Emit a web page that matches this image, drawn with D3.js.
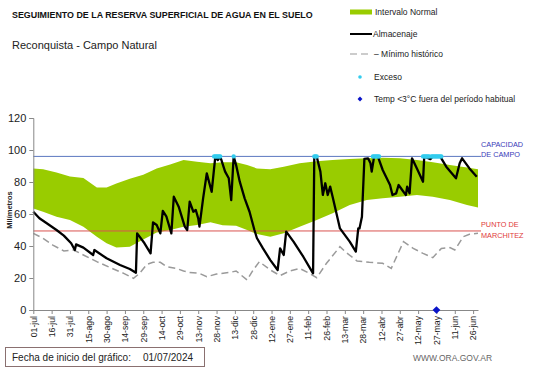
<!DOCTYPE html>
<html><head><meta charset="utf-8">
<script src="https://cdn.jsdelivr.net/npm/d3@7"></script>
<style>body{margin:0;background:#fff}svg{display:block}text{font-family:"Liberation Sans",Arial,sans-serif}</style>
</head><body>
<svg id="c" width="541" height="368"></svg>
<script>
const tickLabels = ["01-jul","16-jul","31-jul","15-ago","30-ago","14-sep","29-sep","14-oct","29-oct","13-nov","28-nov","13-dic","28-dic","12-ene","27-ene","11-feb","26-feb","13-mar","28-mar","12-abr","27-abr","12-may","27-may","11-jun","26-jun"];
const yTicks = [0,20,40,60,80,100,120];
const capacidad = 96;
const marchitez = 49.4;

const bandDays  = [0,8,19,30,41,52,60,68,79,90,101,112,123,134,145,155,166,175,183,194,205,218,232,245,259,273,286,300,314,327,341,355,364];
const bandUpper = [88.5,88,86,83.5,82.5,76.5,76.5,79,82,84.5,88.5,91,93.7,92.7,91.7,92.3,92.3,90.6,88.5,88,89.6,91.7,93,93.7,94.4,94.8,95.2,94.8,93.7,92.3,90.6,89,88];
const bandLower = [63.5,61.4,58.3,56.2,52.1,45.8,41.7,39,39.6,44,48.5,50,52.1,53.1,54.8,53,52.7,50,47.5,45.8,47.9,52.1,56.2,60.4,65.6,68.7,69.8,70.8,71.9,70.8,68.7,65.6,64];

const minDays = [0,8,16,25,33,41,52,63,74,82,87,93,98,104,109,117,123,128,136,142,150,161,166,175,180,185,194,202,210,218,226,232,240,251,256,265,275,286,293,303,311,319,327,334,341,345,352,357,364];
const minVals = [47.9,44.8,40.6,36.9,37.5,34.4,30.2,26.5,22.9,19.8,22.9,28.5,29.8,29.8,27.1,26,24.4,23.5,22.9,20.8,22.5,23.5,24.4,18.75,25,30.2,25,21.5,24.4,26,22.9,20.2,29.2,39.6,36,30.6,29.8,29.2,26,42.7,38.5,35.4,32.7,38.5,39,37.5,45.8,47.3,47.9];

const almDays = [0,5,11,19,25,31,34,35,41,49,50,60,71,79,84,85,91,96,98,101,104,106,109,113,115,119,124,126,128,131,133,135,136,139,142,146,149,151,153,157,160,162,164,166,169,173,177,181,183,188,194,200,202,205,207,213,221,229,230,232,235,237,239,241,243,245,251,259,264,266,267,269,271,274,276,277,279,282,286,292,294,297,299,303,305,306,308,310,314,319,320,325,327,333,338,346,349,351,357,363];
const almVals = [61.4,57.3,54.2,50,46.5,41.7,37.5,41,39,34.4,37.5,32.3,28.1,25.6,23.3,47.9,41.7,35.4,54.8,53.1,47.9,61.9,58.3,47.9,70.8,64.6,52.1,50,67.7,61.4,62.5,57.3,52.1,69.8,85.4,73.9,96,93.7,96,86.5,82.3,68.7,96,90.6,80.2,69.8,61.4,50,45,38.5,31.2,25,38.5,34.4,49,42.7,33.3,22.9,96,95.8,86.5,71.9,79.2,71.9,77.1,70.8,51,42.7,36.5,51,51,58.3,94.4,94.8,91.7,86.5,96,96,87.5,78.1,71.9,72.9,78.1,73.9,71.9,77.1,72.9,94.8,88.5,80.2,96,94.3,96,96,89.6,82.3,91.7,94.8,88.5,83.3];

const excesoDays = [148,149,150,151,152,153,164,230,231,232,278,279,280,281,282,283,319,320,321,322,323,324,326,327,328,329,330,331,332,333,334];
const heladaDays = [330];

const svg = d3.select("#c");
svg.append("rect").attr("width",541).attr("height",368).attr("fill","#fff");

const x = d3.scaleLinear().domain([0,364]).range([33.3,478]);
const y = d3.scaleLinear().domain([0,120]).range([310,118]);

// band
const upperPts = bandDays.map((d,i)=>[x(d),y(bandUpper[i])]);
const lowerPts = bandDays.map((d,i)=>[x(d),y(bandLower[i])]).reverse();
svg.append("path").attr("d", d3.line()(upperPts.concat(lowerPts))+"Z").attr("fill","#99cc00");

// reference lines
svg.append("line").attr("x1",x(0)).attr("x2",481).attr("y1",y(capacidad)).attr("y2",y(capacidad)).attr("stroke","#5b77c0").attr("stroke-width",1);
svg.append("line").attr("x1",x(0)).attr("x2",481).attr("y1",y(marchitez)).attr("y2",y(marchitez)).attr("stroke","#d9534f").attr("stroke-width",1);

// min historic
svg.append("path").datum(minDays.map((d,i)=>[d,minVals[i]]))
  .attr("d", d3.line().x(d=>x(d[0])).y(d=>y(d[1])))
  .attr("fill","none").attr("stroke","#9a9a9a").attr("stroke-width",1.5).attr("stroke-dasharray","7,4");

// almacenaje
svg.append("path").datum(almDays.map((d,i)=>[d,almVals[i]]))
  .attr("d", d3.line().x(d=>x(d[0])).y(d=>y(d[1])))
  .attr("fill","none").attr("stroke","#000").attr("stroke-width",2.3).attr("stroke-linejoin","round");

// exceso
svg.selectAll(".ex").data(excesoDays).join("circle").attr("class","ex")
  .attr("cx",d=>x(d)).attr("cy",y(capacidad)).attr("r",2.2).attr("fill","#33ccee");

// axes
const yAxis = d3.axisLeft(y).tickValues(yTicks).tickSize(4).tickPadding(3);
const gy = svg.append("g").attr("transform",`translate(${x(0)},0)`).call(yAxis);
gy.select(".domain").attr("stroke","#888");
gy.selectAll(".tick line").attr("stroke","#888");
gy.selectAll("text").attr("font-size",11).attr("fill","#222").attr("font-family","Liberation Sans, Arial");

const xAxis = d3.axisBottom(x).tickValues(tickLabels.map((t,i)=>i*15)).tickFormat((d,i)=>tickLabels[i]).tickSize(4).tickSizeOuter(0);
const gx = svg.append("g").attr("transform",`translate(0,${y(0)})`).call(xAxis);
gx.select(".domain").attr("stroke","#888");
gx.selectAll(".tick line").attr("stroke","#888");
gx.selectAll("text").attr("font-size",8.7).attr("fill","#222").attr("font-family","Liberation Sans, Arial")
  .attr("transform","rotate(-90)").attr("text-anchor","end").attr("dy","0.32em").attr("x",-6).attr("y",0);

// helada diamond (rotated square)
svg.selectAll(".hel").data(heladaDays).join("path").attr("class","hel")
  .attr("transform",d=>`translate(${x(d)},${y(0)}) rotate(45)`)
  .attr("d", d3.symbol().type(d3.symbolSquare).size(30)).attr("fill","#0a14c8");

// y label
svg.append("text").attr("transform","translate(12,210) rotate(-90)").attr("text-anchor","middle")
  .attr("font-size",7.5).attr("font-weight","bold").attr("fill","#222").text("Milímetros");

// titles
svg.append("text").attr("x",12).attr("y",18).attr("font-size",8.9).attr("font-weight","bold").attr("fill","#111")
  .text("SEGUIMIENTO DE LA RESERVA  SUPERFICIAL DE AGUA EN EL SUELO");
svg.append("text").attr("x",12).attr("y",49).attr("font-size",11).attr("fill","#222").text("Reconquista  - Campo Natural");

// legend
const lg = svg.append("g").attr("font-size",8.5).attr("fill","#222");
lg.append("rect").attr("x",350).attr("y",9.5).attr("width",22).attr("height",5).attr("fill","#99cc00");
lg.append("text").attr("x",375).attr("y",15).text("Intervalo Normal");
lg.append("line").attr("x1",350).attr("x2",372).attr("y1",34).attr("y2",34).attr("stroke","#000").attr("stroke-width",2);
lg.append("text").attr("x",373).attr("y",37).text("Almacenaje");
lg.append("line").attr("x1",350).attr("x2",372).attr("y1",54).attr("y2",54).attr("stroke","#999").attr("stroke-width",1.2).attr("stroke-dasharray","7,4");
lg.append("text").attr("x",374).attr("y",57).text("– Mínimo histórico");
lg.append("circle").attr("cx",360).attr("cy",77).attr("r",1.8).attr("fill","#33ccee");
lg.append("text").attr("x",374).attr("y",80).text("Exceso");
lg.append("path").attr("transform","translate(360,99) rotate(45)").attr("d",d3.symbol().type(d3.symbolSquare).size(12)).attr("fill","#0a14c8");
lg.append("text").attr("x",374).attr("y",102).text("Temp <3°C fuera del período habitual");

// right labels
const rl = svg.append("g").attr("font-size",7.3);
rl.append("text").attr("x",481).attr("y",147).attr("fill","#3a3ab8").text("CAPACIDAD");
rl.append("text").attr("x",481).attr("y",157).attr("fill","#3a3ab8").text("DE  CAMPO");
rl.append("text").attr("x",481).attr("y",227).attr("fill","#e03a3a").text("PUNTO  DE");
rl.append("text").attr("x",481).attr("y",238).attr("fill","#e03a3a").text("MARCHITEZ");

// bottom box
svg.append("rect").attr("x",5.5).attr("y",347.5).attr("width",199).attr("height",19).attr("fill","none").attr("stroke","#8a7070").attr("stroke-width",1);
svg.append("text").attr("x",12).attr("y",361).attr("font-size",10).attr("fill","#222").attr("font-family","Carlito, Calibri, Liberation Sans").text("Fecha de inicio del gráfico:");
svg.append("text").attr("x",143).attr("y",361).attr("font-size",10).attr("fill","#222").attr("font-family","Carlito, Calibri, Liberation Sans").text("01/07/2024");
svg.append("text").attr("x",413).attr("y",361).attr("font-size",8.5).attr("fill","#666").text("WWW.ORA.GOV.AR");
</script>
</body></html>
